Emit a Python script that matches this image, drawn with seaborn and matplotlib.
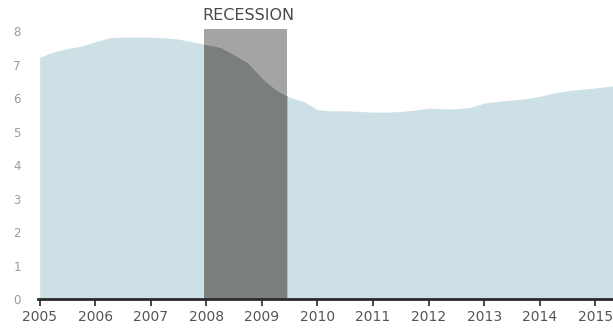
import numpy as np
import pandas as pd
import matplotlib
matplotlib.use("Agg")
import matplotlib.pyplot as plt
import seaborn as sns

# ---- data ----
quarters = [2005.0, 2005.25, 2005.5, 2005.75, 2006.0, 2006.25, 2006.5, 2006.75,
            2007.0, 2007.25, 2007.5, 2007.75, 2008.0, 2008.25, 2008.5, 2008.75,
            2009.0, 2009.25, 2009.5, 2009.75, 2010.0, 2010.25, 2010.5, 2010.75,
            2011.0, 2011.25, 2011.5, 2011.75, 2012.0, 2012.25, 2012.5, 2012.75,
            2013.0, 2013.25, 2013.5, 2013.75, 2014.0, 2014.25, 2014.5, 2014.75,
            2015.0, 2015.25, 2015.5]
values = [7.22, 7.38, 7.48, 7.55, 7.68, 7.80, 7.82, 7.82,
          7.82, 7.80, 7.76, 7.68, 7.60, 7.52, 7.30, 7.05,
          6.60, 6.25, 6.02, 5.90, 5.65, 5.62, 5.62, 5.60,
          5.58, 5.58, 5.60, 5.64, 5.70, 5.68, 5.68, 5.72,
          5.85, 5.90, 5.94, 5.98, 6.05, 6.15, 6.22, 6.26,
          6.30, 6.35, 6.40]
year_ticks = [2005, 2006, 2007, 2008, 2009, 2010, 2011, 2012, 2013, 2014, 2015]
y_ticks = [0, 1, 2, 3, 4, 5, 6, 7, 8]
recession = (2007.95, 2009.45)
recession_top = 8.05
recession_label = "RECESSION"

df = pd.DataFrame({"year": quarters, "value": values})

sns.set_style("white")
plt.rcParams["font.family"] = ["DejaVu Sans"]

fig = plt.figure(figsize=(6.13, 3.30), dpi=100)
ax = fig.add_axes([38 / 613, 31 / 330, 575 / 613, 288 / 330])

AREA = "#cde0e5"
BOX = "#a4a4a4"
OVER = "#7b7f7b"

# recession box (behind)
ax.fill_between(list(recession), 0, recession_top, color=BOX, linewidth=0, zorder=1)
# main area (edge via seaborn, fill below it)
sns.lineplot(data=df, x="year", y="value", ax=ax, color=AREA, linewidth=0, zorder=2)
ax.fill_between(df["year"], 0, df["value"], color=AREA, linewidth=0, zorder=2)
# overlap region
xs = np.array(quarters)
ys = np.array(values)
mask = (xs > recession[0]) & (xs < recession[1])
rx = np.concatenate([[recession[0]], xs[mask], [recession[1]]])
ry = np.concatenate([[np.interp(recession[0], xs, ys)], ys[mask],
                     [np.interp(recession[1], xs, ys)]])
ax.fill_between(rx, 0, ry, color=OVER, linewidth=0, zorder=3)

ax.text(sum(recession) / 2 + 0.05, 8.33, recession_label, ha="center",
        va="baseline", fontsize=11.5, color="#4a4a4a", zorder=4)

ax.set_xlim(2004.97, 2015.32)
ax.set_ylim(0, 8.6)
ax.set_xticks(year_ticks)
ax.set_xticklabels([str(y) for y in year_ticks])
ax.set_yticks(y_ticks)
ax.set_xlabel("")
ax.set_ylabel("")

for s in ["left", "right", "top"]:
    ax.spines[s].set_visible(False)
ax.spines["bottom"].set_color("#2a2a2a")
ax.spines["bottom"].set_linewidth(2)
ax.spines["bottom"].set_zorder(5)

ax.tick_params(axis="x", length=5, width=1.2, color="#2a2a2a", direction="out",
               labelsize=10, labelcolor="#555555", pad=3, bottom=True)
ax.tick_params(axis="y", length=0, labelsize=8.5, labelcolor="#9a9a9a", pad=15)
for lab in ax.get_yticklabels():
    lab.set_horizontalalignment("center")

fig.savefig("out.png", dpi=100)
